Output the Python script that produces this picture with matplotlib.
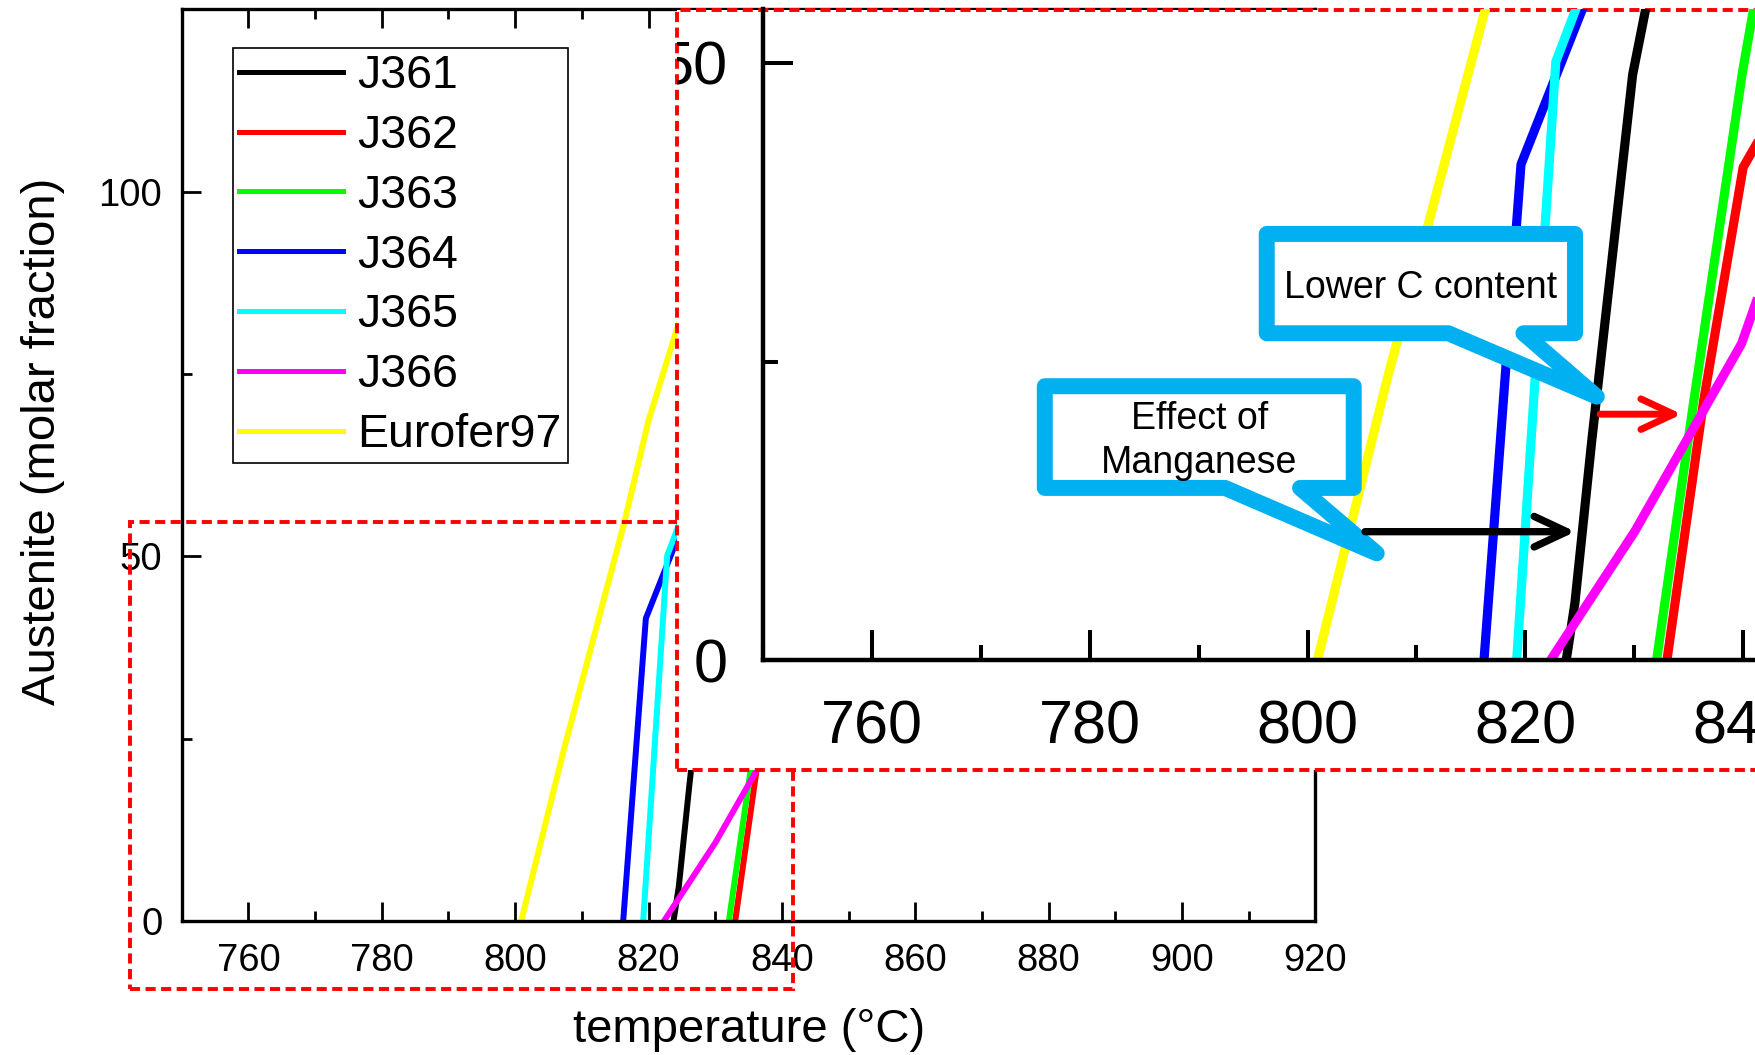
import matplotlib
matplotlib.use('Agg')
import matplotlib.pyplot as plt
from matplotlib.patches import Rectangle, Polygon
from matplotlib.ticker import MultipleLocator
from matplotlib.transforms import Bbox, TransformedBbox

plt.rcParams['font.family'] = ['Liberation Sans', 'DejaVu Sans']

# austenite molar fraction (%) against temperature (deg C)
j361_t = [823.75, 824.55, 826.1, 829.85, 831.05, 835.0, 840.0, 845.0, 850.0]
j361_f = [0.0, 4.8, 18.4, 49.0, 54.5, 68.0, 82.0, 93.0, 100.0]

j362_t = [833.0, 836.35, 840.0, 841.1, 845.0, 850.0, 855.0, 860.0, 865.0]
j362_f = [0.0, 21.6, 41.25, 43.0, 49.0, 60.0, 75.0, 90.0, 100.0]

j363_t = [832.05, 835.45, 839.95, 840.9, 845.0, 850.0, 855.0, 860.0]
j363_f = [0.0, 21.6, 49.3, 54.2, 66.0, 80.0, 93.0, 100.0]

j364_t = [816.2, 819.6, 825.2, 830.0, 835.0, 840.0, 845.0, 850.0]
j364_f = [0.0, 41.5, 54.4, 66.0, 78.0, 90.0, 98.0, 100.0]

j365_t = [819.2, 822.8, 824.6, 830.0, 835.0, 840.0, 845.0]
j365_f = [0.0, 50.1, 54.4, 68.0, 80.0, 92.0, 100.0]

j366_t = [822.3, 830.05, 839.85, 841.2, 845.0, 850.0, 855.0, 860.0, 865.0]
j366_f = [0.0, 10.8, 26.5, 30.0, 40.0, 54.0, 70.0, 86.0, 100.0]

eurofer_t = [800.9, 807.3, 816.3, 820.0, 824.2, 828.0, 832.0, 836.0, 840.0]
eurofer_f = [0.0, 23.5, 54.4, 68.6, 81.0, 90.0, 96.0, 99.0, 100.0]

names = ['J361', 'J362', 'J363', 'J364', 'J365', 'J366', 'Eurofer97']
colors = ['#000000', '#FF0000', '#00FF00', '#0000FF', '#00FFFF', '#FF00FF', '#FFFF00']
series = [(j361_t, j361_f), (j362_t, j362_f), (j363_t, j363_f), (j364_t, j364_f),
          (j365_t, j365_f), (j366_t, j366_f), (eurofer_t, eurofer_f)]

callout_blue = '#00B0F0'
dash = (0, (2.6, 1.4))

fig = plt.figure(figsize=(17.55, 10.55), dpi=100)

# ---- full range plot ----
ax = fig.add_axes([0.1036, 0.1268, 0.6458, 0.8646])
for (t, f), c, n in zip(series, colors, names):
    ax.plot(t, f, color=c, lw=4.3, label=n)

ax.set_xlim(750, 920)
ax.set_ylim(0, 125)
ax.xaxis.set_major_locator(MultipleLocator(20))
ax.xaxis.set_minor_locator(MultipleLocator(10))
ax.set_yticks([0, 50, 100])
ax.yaxis.set_minor_locator(MultipleLocator(25))
ax.tick_params(which='both', direction='in', top=True, right=False, width=2.0, labelsize=27.5)
ax.tick_params(which='major', length=13.7)
ax.tick_params(which='minor', length=7.2)
ax.tick_params(axis='x', pad=16)
ax.tick_params(axis='y', pad=14)
for s in ax.spines.values():
    s.set_linewidth(2.4)

ax.set_xlabel('temperature (°C)', fontsize=34)
ax.xaxis.label.set_va('baseline')
ax.xaxis.set_label_coords(0.5004, -0.132)
ax.set_ylabel('Austenite (molar fraction)', fontsize=34)
ax.yaxis.set_label_coords(-0.1035, 0.526)

leg = ax.legend(loc='upper left', bbox_to_anchor=(0.0452, 0.9573), borderaxespad=0,
                fontsize=33.5, fancybox=False, edgecolor='black', framealpha=1,
                borderpad=0.13, labelspacing=0.34, handlelength=2.24, handletextpad=0.3)
leg.get_frame().set_linewidth(1.2)
for h in leg.get_lines():
    h.set_linewidth(3.6)

# region that is enlarged
ax.add_patch(Rectangle((742.2, -9.3), 841.6 - 742.2, 54.7 + 9.3, fill=False,
                       ec='red', lw=2.8, ls=dash, clip_on=False, zorder=6))
# white panel behind the enlargement
panel = (0.3858, 0.2701, 0.7, 0.7204)
ax.add_patch(Rectangle(panel[:2], panel[2], panel[3], transform=fig.transFigure,
                       fc='white', ec='red', lw=2.8, ls=dash, clip_on=False, zorder=10))

# ---- enlarged view ----
ax_in = fig.add_axes([0.4348, 0.37403, 0.6205, 0.61744])
ax_in.set_facecolor('none')
for (t, f), c in zip(series, colors):
    ax_in.plot(t, f, color=c, lw=6.6)

ax_in.set_xlim(750, 850)
ax_in.set_ylim(0, 54.5)
ax_in.xaxis.set_major_locator(MultipleLocator(20))
ax_in.xaxis.set_minor_locator(MultipleLocator(10))
ax_in.set_yticks([0, 50])
ax_in.yaxis.set_minor_locator(MultipleLocator(25))
ax_in.tick_params(which='both', direction='in', width=2.9, labelsize=44)
ax_in.tick_params(which='major', length=21.6)
ax_in.tick_params(which='minor', length=10.8)
ax_in.tick_params(axis='x', pad=27.8)
ax_in.tick_params(axis='y', pad=25.5)
ax_in.spines['top'].set_visible(False)
ax_in.spines['right'].set_visible(False)
for side in ['left', 'bottom']:
    ax_in.spines[side].set_linewidth(3.2)

# tick labels of the enlargement stay inside its panel
panel_box = TransformedBbox(Bbox.from_bounds(*panel), fig.transFigure)
for lbl in ax_in.get_yticklabels() + ax_in.get_xticklabels():
    lbl.set_clip_box(panel_box)
    lbl.set_clip_on(True)

# callout boxes
lower_c = [(796.25, 35.68), (824.56, 35.68), (824.56, 27.37), (819.82, 27.37),
           (826.56, 22.07), (812.93, 27.37), (796.25, 27.37)]
ax_in.add_patch(Polygon(lower_c, closed=True, fc='white', ec=callout_blue, lw=11.5,
                        joinstyle='round', zorder=4))
ax_in.text(810.4, 30.3, 'Lower C content', ha='center', va='baseline', fontsize=27, zorder=5)

manganese = [(775.87, 22.94), (804.24, 22.94), (804.24, 14.43), (799.31, 14.43),
             (806.35, 8.96), (792.42, 14.43), (775.87, 14.43)]
ax_in.add_patch(Polygon(manganese, closed=True, fc='white', ec=callout_blue, lw=11.5,
                        joinstyle='round', zorder=4))
ax_in.text(790.06, 19.34, 'Effect of', ha='center', va='baseline', fontsize=27, zorder=5)
ax_in.text(790.06, 15.71, 'Manganese', ha='center', va='baseline', fontsize=27, zorder=5)

# shift arrows
arrow_style = '->,head_length=2.35,head_width=1.1'
ax_in.annotate('', xy=(824.6, 10.77), xytext=(805.28, 10.77), zorder=5,
               arrowprops=dict(arrowstyle=arrow_style, color='black', lw=5.3,
                               shrinkA=0, shrinkB=0, mutation_scale=10,
                               capstyle='round', joinstyle='round'))
ax_in.annotate('', xy=(834.36, 20.6), xytext=(826.86, 20.6), zorder=5,
               arrowprops=dict(arrowstyle=arrow_style, color='red', lw=5.0,
                               shrinkA=0, shrinkB=0, mutation_scale=10,
                               capstyle='round', joinstyle='round'))

fig.savefig('out.png', dpi=100)
